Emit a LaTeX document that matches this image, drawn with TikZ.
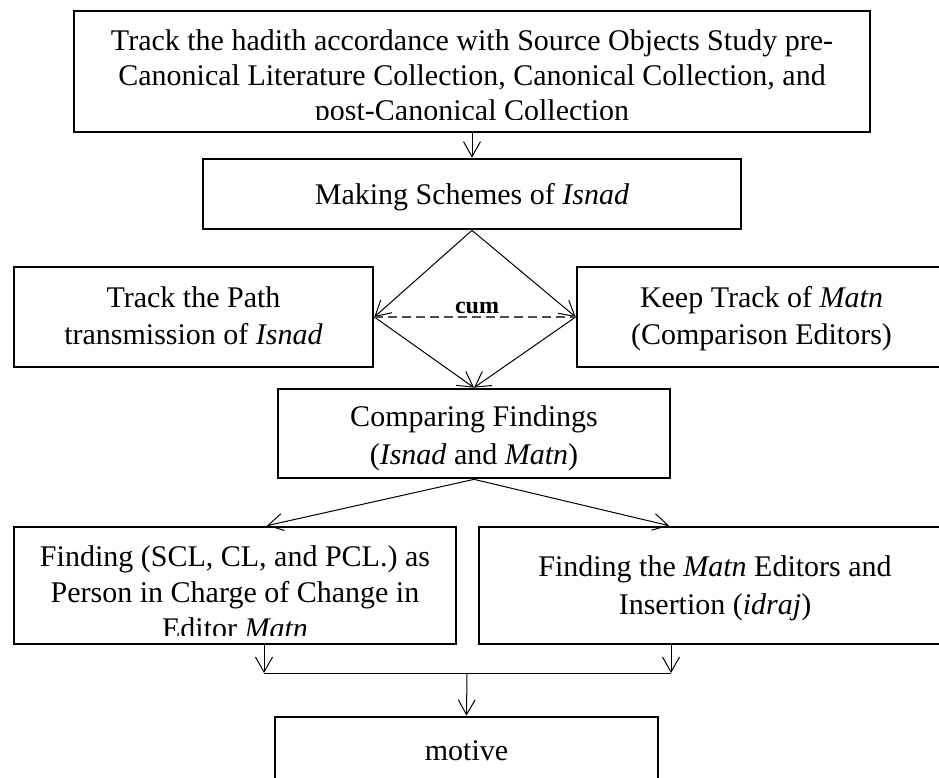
\documentclass[tikz,border=0pt]{standalone}
\usepackage{fontspec}
\setmainfont{Liberation Serif}
\usetikzlibrary{arrows.meta}
\begin{document}
\begin{tikzpicture}[x=1pt,y=-1pt,
  box/.style={draw=black, line width=2.7pt, inner sep=0pt},
  txt/.style={inner sep=0pt, align=center, font=\fontsize{30}{37}\selectfont},
  conn/.style={draw=black, line width=1pt},
  arr/.style={conn, -{Straight Barb[length=15pt,width=17pt,line width=1pt]}},
  dashline/.style={draw=black!70, line width=1.3pt, dash pattern=on 9pt off 5pt},
  cumlbl/.style={inner sep=0pt, font=\fontsize{24}{26}\selectfont\bfseries}
]
\useasboundingbox (0,0) rectangle (939,778);
\fill[white] (0,0) rectangle (939,778);

% boxes
\node[box, minimum width=796pt, minimum height=121pt] (top) at (472,71.5) {};
\node[box, minimum width=538pt, minimum height=70pt] (ms) at (472,194) {};
\node[box, minimum width=359pt, minimum height=100pt] (lp) at (193.5,317) {};
\node[box, minimum width=369pt, minimum height=100pt] (km) at (761.5,317) {};
\node[box, minimum width=392pt, minimum height=89pt] (cf) at (474,433.5) {};
\node[box, minimum width=442pt, minimum height=117pt] (fl) at (235,585.5) {};
\node[box, minimum width=472pt, minimum height=117pt] (fr) at (715,585.5) {};
\node[box, minimum width=383pt, minimum height=74pt] (mo) at (466.5,754) {};

% texts
\begin{scope}
  \clip (74,11) rectangle (870,120);
  \node[txt, font=\fontsize{30}{35}\selectfont] (ttop) at (472,78)
    {Track the hadith accordance with Source Objects Study pre-\\Canonical Literature Collection, Canonical Collection, and\\post-Canonical Collection};
\end{scope}
\node[txt] (tms) at (472,197) {Making Schemes of \textit{Isnad}};
\node[txt] (tlp) at (193.5,315.5) {Track the Path\\transmission of \textit{Isnad}};
\node[txt] (tkm) at (761.5,318.5) {Keep Track of \textit{Matn}\\(Comparison Editors)};
\node[txt, font=\fontsize{30}{38}\selectfont] (tcf) at (474,438) {Comparing Findings\\(\textit{Isnad} and \textit{Matn})};
\begin{scope}
  \clip (14,527) rectangle (456,635);
  \node[txt, font=\fontsize{30}{36}\selectfont] (tfl) at (235,592)
    {Finding (SCL, CL, and PCL.) as\\Person in Charge of Change in\\Editor \textit{Matn}};
\end{scope}
\node[txt, font=\fontsize{30}{38}\selectfont] (tfr) at (715,588) {Finding the \textit{Matn} Editors and\\Insertion (\textit{idraj})};
\node[txt] (tmo) at (466.5,751) {motive};

% junction points
\coordinate (jl) at (264,673);
\coordinate (jr) at (671,673);
\coordinate (jm) at (467,673);

% connectors
\draw[arr] (top.south) -- (ms.north);
\draw[arr] (ms.south) -- (lp.east);
\draw[arr] (ms.south) -- (km.west);
\draw[arr] (lp.east) -- (cf.north);
\draw[arr] (km.west) -- (cf.north);
\draw[dashline] (lp.east) -- node[cumlbl, anchor=base, yshift=4pt, xshift=2pt] (cum) {cum} (km.west);
\draw[arr] (cf.south) -- ([xshift=32pt]fl.north);
\draw[arr] (cf.south) -- ([xshift=-46pt]fr.north);
\draw[arr] (fl.south -| jl) -- (jl);
\draw[arr] (fr.south -| jr) -- (jr);
\draw[conn] (jl) -- (jr);
\draw[arr] (jm) -- (mo.north);
\end{tikzpicture}
\end{document}
